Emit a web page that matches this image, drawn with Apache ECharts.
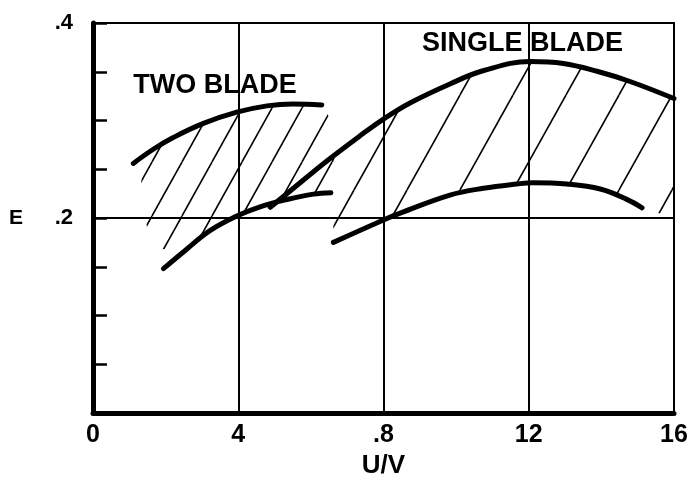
<!DOCTYPE html>
<html>
<head>
<meta charset="utf-8">
<script src="https://cdn.jsdelivr.net/npm/echarts@6/dist/echarts.min.js"></script>
<style>
  html, body { margin: 0; padding: 0; background: #fff; }
  #chart { width: 692px; height: 492px; }
</style>
</head>
<body>
<div id="chart"></div>
<script>
// Efficiency E against speed ratio U/V for two-blade and single-blade rotors.

// Axis tick labels as printed on the chart
const xTickLabels = ['0', '4', '.8', '12', '16'];
const yTickValues = [0.2, 0.4];
const yTickLabels = ['.2', '.4'];

// Boundary curves [U/V, E]
const twoBladeUpper = [[1.11, 0.256], [1.66, 0.2705], [2.21, 0.2825], [3.04, 0.297], [3.96, 0.3085],
  [4.79, 0.315], [5.51, 0.317], [6.30, 0.316]];
const twoBladeLower = [[1.94, 0.148], [2.58, 0.168], [3.22, 0.187], [3.96, 0.202], [4.60, 0.2115],
  [5.34, 0.219], [6.07, 0.2245], [6.55, 0.226]];
const singleBladeUpper = [[4.88, 0.211], [5.52, 0.2305], [6.44, 0.2585], [7.36, 0.2845], [8.00, 0.3015],
  [8.73, 0.318], [9.83, 0.3375], [10.74, 0.351], [12.04, 0.3605], [12.95, 0.3585], [13.88, 0.3505],
  [14.79, 0.340], [16.0, 0.3225]];
const singleBladeLower = [[6.62, 0.175], [8.00, 0.198], [8.46, 0.205], [9.83, 0.2235], [10.75, 0.2305],
  [11.67, 0.2349], [12.12, 0.2362], [13.05, 0.2349], [13.97, 0.2297], [14.70, 0.2191], [15.12, 0.2105]];

// Hatched bands
const twoBladeHatchTop = [[1.35, 0.245], [1.66, 0.2705], [2.21, 0.2825], [3.04, 0.297], [3.96, 0.3085],
  [4.79, 0.315], [5.51, 0.317], [6.30, 0.316], [6.65, 0.295]];
const twoBladeHatchBottom = [[1.30, 0.226], [1.49, 0.190], [1.90, 0.168], [2.60, 0.170], [3.22, 0.187],
  [3.96, 0.202], [4.60, 0.2115], [5.34, 0.219], [6.07, 0.2245], [6.65, 0.226]];
const singleBladeHatchTop = [[6.62, 0.263], [7.36, 0.2845], [8.00, 0.3015], [8.73, 0.318], [9.83, 0.3375],
  [10.74, 0.351], [12.04, 0.3605], [12.95, 0.3585], [13.88, 0.3505], [14.79, 0.340], [16.0, 0.3225]];
const singleBladeHatchBottom = [[6.62, 0.175], [8.00, 0.198], [8.46, 0.205], [9.83, 0.2235], [10.75, 0.2305],
  [11.67, 0.2349], [12.12, 0.2362], [13.05, 0.2349], [13.97, 0.2297], [14.70, 0.2191], [15.12, 0.2105],
  [16.0, 0.20]];

// Curve captions
const captionNames = ['TWO BLADE', 'SINGLE BLADE'];
const captionPositions = [[3.36, 0.3356], [11.83, 0.379]];

// Diagonal hatch tile: lines rising to the right, `step` px apart horizontally
function hatchPattern(step, rise, offset, width) {
  const c = document.createElement('canvas');
  c.width = step; c.height = rise;
  const g = c.getContext('2d');
  g.strokeStyle = '#000';
  g.lineWidth = width;
  for (let n = -1; n <= 2; n++) {
    g.beginPath();
    g.moveTo(offset + n * step, 0);
    g.lineTo(offset + n * step - step, rise);
    g.stroke();
  }
  return { image: c, repeat: 'repeat' };
}

const twoBladeFill = hatchPattern(30, 54, 2, 1.6);
const singleBladeFill = hatchPattern(53, 95, 36, 1.6);

function hatchSeries(top, bottom, fill) {
  return {
    type: 'custom',
    silent: true,
    data: [0],
    z: 1,
    renderItem: function (params, api) {
      const pts = top.map(p => api.coord(p))
        .concat(bottom.slice().reverse().map(p => api.coord(p)));
      return { type: 'polygon', shape: { points: pts }, style: { fill: fill, stroke: null } };
    }
  };
}

function curve(data) {
  return {
    type: 'line',
    data: data,
    smooth: 0.4,
    symbol: 'none',
    z: 3,
    lineStyle: { color: '#000', width: 5, cap: 'round', join: 'round' }
  };
}

const font = 'Liberation Sans, Arial, Helvetica, sans-serif';

const chart = echarts.init(document.getElementById('chart'), null, { renderer: 'canvas' });
chart.setOption({
  animation: false,
  backgroundColor: '#fff',
  grid: {
    left: 93, right: 18, top: 23, bottom: 79,
    show: true, borderColor: '#000', borderWidth: 2, backgroundColor: 'transparent'
  },
  xAxis: {
    type: 'value', min: 0, max: 16, interval: 4,
    name: 'U/V', nameLocation: 'middle', nameGap: 40,
    nameTextStyle: { color: '#000', fontSize: 26, fontWeight: 'bold', fontFamily: font },
    axisLine: { lineStyle: { color: '#000', width: 5 } },
    axisTick: { show: false },
    axisLabel: {
      color: '#000', fontSize: 25, fontWeight: 'bold', fontFamily: font, margin: 10,
      formatter: v => xTickLabels[Math.round(v / 4)]
    },
    splitLine: { show: true, lineStyle: { color: '#000', width: 2 } }
  },
  yAxis: [{
    type: 'value', min: 0, max: 0.4, interval: 0.05,
    name: 'E', nameLocation: 'middle', nameRotate: 0, nameGap: 70,
    nameTextStyle: { color: '#000', fontSize: 21, fontWeight: 'bold', fontFamily: font },
    axisLine: { lineStyle: { color: '#000', width: 5 } },
    axisTick: { inside: true, length: 14, lineStyle: { color: '#000', width: 2.5 } },
    axisLabel: {
      color: '#000', fontSize: 22, fontWeight: 'bold', fontFamily: font, margin: 20,
      formatter: v => {
        const i = yTickValues.findIndex(t => Math.abs(t - v) < 1e-6);
        return i >= 0 ? yTickLabels[i] : '';
      }
    },
    splitLine: { show: false }
  }, {
    type: 'value', min: 0, max: 0.4, interval: 0.2, position: 'left',
    axisLine: { show: false }, axisTick: { show: false }, axisLabel: { show: false },
    splitLine: { show: true, lineStyle: { color: '#000', width: 2 } }
  }],
  series: [
    hatchSeries(twoBladeHatchTop, twoBladeHatchBottom, twoBladeFill),
    hatchSeries(singleBladeHatchTop, singleBladeHatchBottom, singleBladeFill),
    curve(twoBladeUpper),
    curve(twoBladeLower),
    curve(singleBladeUpper),
    curve(singleBladeLower),
    {
      type: 'scatter',
      symbolSize: 0,
      silent: true,
      z: 4,
      itemStyle: { opacity: 1 },
      data: captionNames.map((n, i) => ({ name: n, value: captionPositions[i] })),
      label: {
        show: true, position: 'inside', formatter: p => p.name,
        color: '#000', opacity: 1, fontSize: 27, fontWeight: 'bold', fontFamily: font
      }
    }
  ]
});
</script>
</body>
</html>
